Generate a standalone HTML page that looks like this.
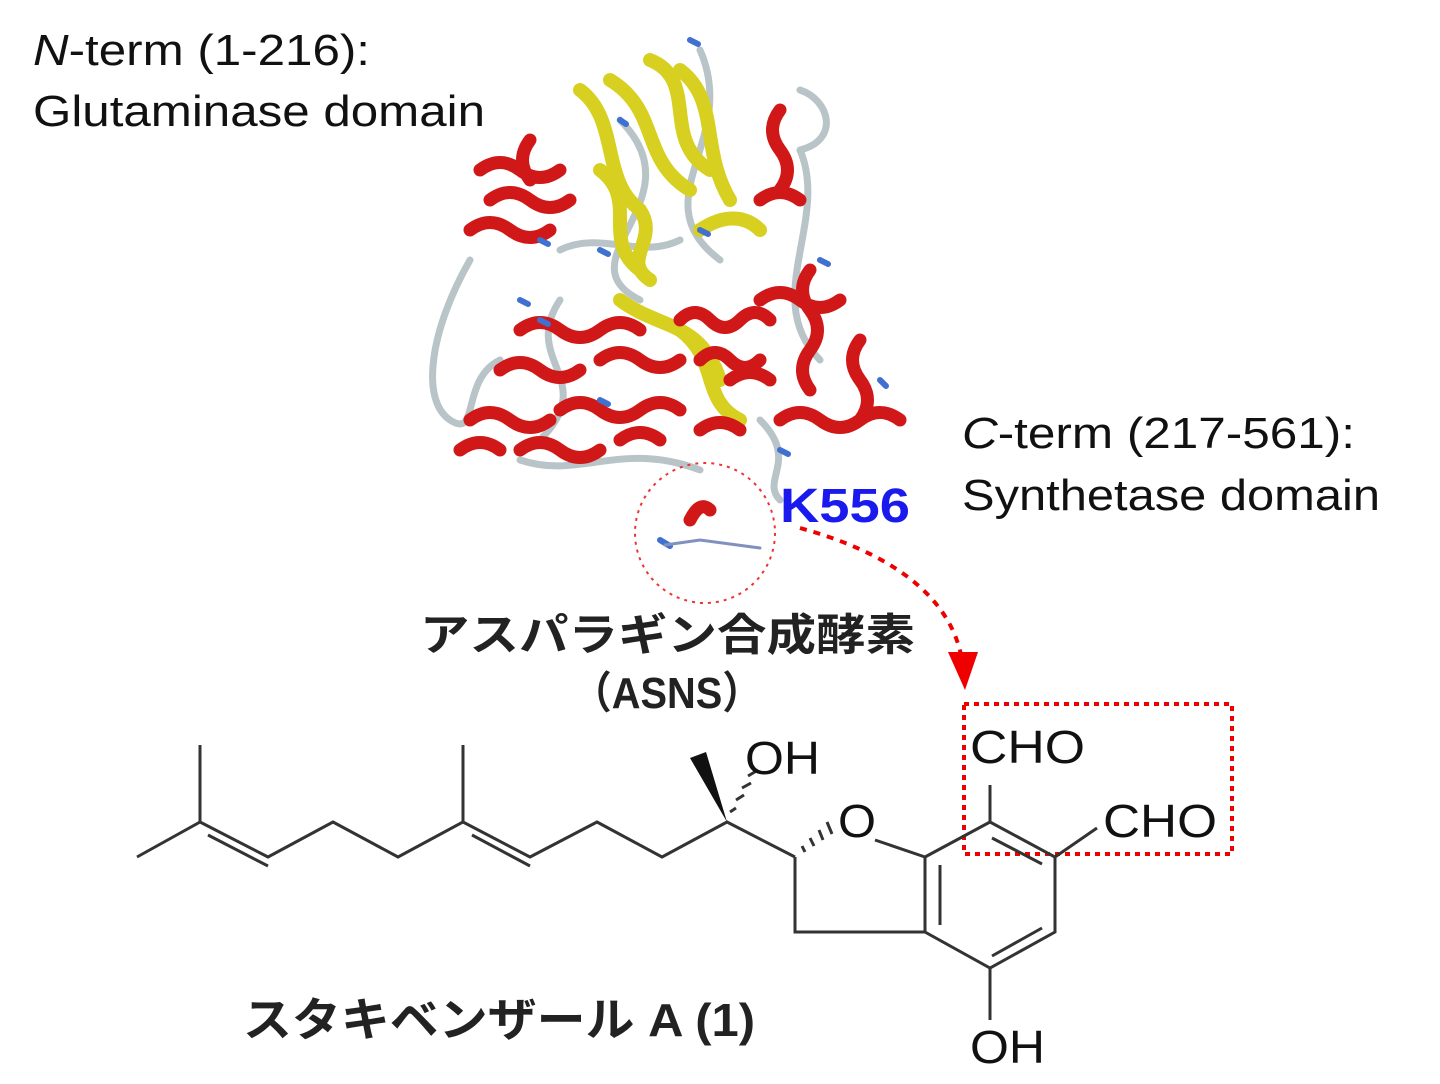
<!DOCTYPE html>
<html><head><meta charset="utf-8"><style>
body{margin:0;background:#fff;width:1440px;height:1084px;overflow:hidden}
svg{position:absolute;left:0;top:0}
text{font-family:"Liberation Sans","Noto Sans CJK JP",sans-serif}
</style></head><body>
<svg width="1440" height="1084" viewBox="0 0 1440 1084">
<g fill="none" stroke-linecap="round">
<path d="M470 260 C430 330 420 400 450 420 C480 440 460 380 500 360 M620 120 C700 200 560 260 640 300 M700 50 C740 140 640 200 720 260 M800 150 C830 220 760 300 820 360 M520 460 C580 480 620 440 700 470 M560 300 C520 360 600 380 540 440 M760 420 C800 460 760 480 780 500 M800 150 C840 140 830 100 800 90 M560 250 C600 230 640 260 680 240" stroke="#b8c4c8" stroke-width="7"/>
<path d="M580 90 C620 120 600 180 640 210 C660 240 620 260 650 280 M610 80 C660 110 640 160 690 190 M680 70 C720 100 700 150 730 200 M650 60 C700 80 660 140 710 170 M600 170 C640 200 600 240 640 270 M620 300 C660 330 700 320 720 380 M680 330 C720 360 700 400 740 420 M700 230 C730 210 750 220 760 230" stroke="#d8d020" stroke-width="14"/>
<path d="M480 170 q20-15 40 0 q20 15 40 0 M490 200 q20-15 40 0 q20 15 40 0 M470 230 q20-15 40 0 q20 15 40 0 M780 110 q-15 20 0 40 q15 20 0 40 M760 200 q20-15 40 0 M520 330 q20-15 40 0 q20 15 40 0 q20-15 40 0 M500 370 q20-15 40 0 q20 15 40 0 M470 420 q20-15 40 0 q20 15 40 0 M560 410 q20-15 40 0 q20 15 40 0 q20-15 40 0 M680 320 q15-15 30 0 q15 15 30 0 q15-15 30 0 M700 360 q15-15 30 0 q15 15 30 0 M760 300 q20-15 40 0 q20 15 40 0 M810 270 q-15 20 0 40 q15 20 0 40 q-15 20 0 40 M780 420 q20-15 40 0 q20 15 40 0 q20-15 40 0 M860 340 q-15 20 0 40 q15 20 0 40 M520 450 q20-15 40 0 q20 15 40 0 M620 440 q20-15 40 0 M700 430 q20-15 40 0 M690 520 q10-20 20-10 M530 140 q-15 20 0 40 M600 360 q20-15 40 0 q20 15 40 0 M730 380 q20-15 40 0 M460 450 q20-15 40 0" stroke="#d01818" stroke-width="13"/>
<path d="M540 240 l8 4 M600 250 l8 4 M690 40 l8 4 M700 230 l8 4 M540 320 l8 4 M820 260 l8 4 M600 400 l8 4 M780 450 l8 4 M660 540 l10 6 M620 120 l6 4 M880 380 l6 6 M520 300 l8 4" stroke="#4070d0" stroke-width="6"/>
<path d="M665 545 L700 540 L760 548" stroke="#8090c0" stroke-width="3"/>
</g>
<circle cx="705" cy="533" r="70" fill="none" stroke="#e33" stroke-width="2" stroke-dasharray="3,5"/>
<path d="M800 528 C880 550 950 590 962 660" fill="none" stroke="#e00" stroke-width="4" stroke-dasharray="7,7"/>
<polygon points="948,652 978,652 965,690" fill="#e00"/>
<rect x="964" y="704" width="268" height="150" fill="none" stroke="#e00" stroke-width="4" stroke-dasharray="5,5"/>
<g stroke="#333" stroke-width="3" fill="none">
<path d="M137 857 L200 822 L200 745 M200 822 L268 857 L333 822 L398 857 L463 822 L463 745 M463 822 L530 857 L597 822 L662 857 L727 822 L795 857 M795 857 L795 932 L925 932 M875 840 L925 857 M925 857 L990 822 L1055 857 L1055 932 L990 968 L925 932 Z M990 822 L990 785 M1055 857 L1097 828 M990 968 L990 1020"/>
<path d="M208 835 L268 866 M472 835 L530 866 M940 865 L940 925 M992 838 L1042 864 M1042 928 L992 956"/>
</g>
<polygon points="727,822 690,758 706,752" fill="#111"/>
<g stroke="#333" stroke-width="3"><path d="M730 812 l6 -4 M736 800 l8 -5 M742 788 l9 -5 M748 776 l10 -6"/><path d="M805 852 l-3-6 M814 846 l-4-8 M823 840 l-4-10 M832 834 l-5-12"/></g>
<g font-size="46" fill="#111">
<text x="745" y="774" textLength="75" lengthAdjust="spacingAndGlyphs">OH</text>
<text x="838" y="837" textLength="38" lengthAdjust="spacingAndGlyphs">O</text>
<text x="970" y="763" textLength="115" lengthAdjust="spacingAndGlyphs">CHO</text>
<text x="1103" y="837" textLength="114" lengthAdjust="spacingAndGlyphs">CHO</text>
<text x="970" y="1063" textLength="75" lengthAdjust="spacingAndGlyphs">OH</text>
</g>
<g font-size="44" fill="#111">
<text x="33" y="65" textLength="337" lengthAdjust="spacingAndGlyphs"><tspan font-style="italic">N</tspan>-term (1-216):</text>
<text x="33" y="126" textLength="452" lengthAdjust="spacingAndGlyphs">Glutaminase domain</text>
<text x="962" y="448" textLength="393" lengthAdjust="spacingAndGlyphs"><tspan font-style="italic">C</tspan>-term (217-561):</text>
<text x="962" y="510" textLength="418" lengthAdjust="spacingAndGlyphs">Synthetase domain</text>
</g>
<text x="780" y="522" font-size="48" font-weight="bold" fill="#1a1aee" textLength="130" lengthAdjust="spacingAndGlyphs">K556</text>
<text x="420" y="650" font-size="44" font-weight="bold" fill="#222" textLength="495" lengthAdjust="spacingAndGlyphs">アスパラギン合成酵素</text>
<text x="572" y="708" font-size="44" font-weight="bold" fill="#222" textLength="190" lengthAdjust="spacingAndGlyphs">（ASNS）</text>
<text x="243" y="1036" font-size="46" font-weight="bold" fill="#222" textLength="512" lengthAdjust="spacingAndGlyphs">スタキベンザール A (1)</text>
</svg>
</body></html>
